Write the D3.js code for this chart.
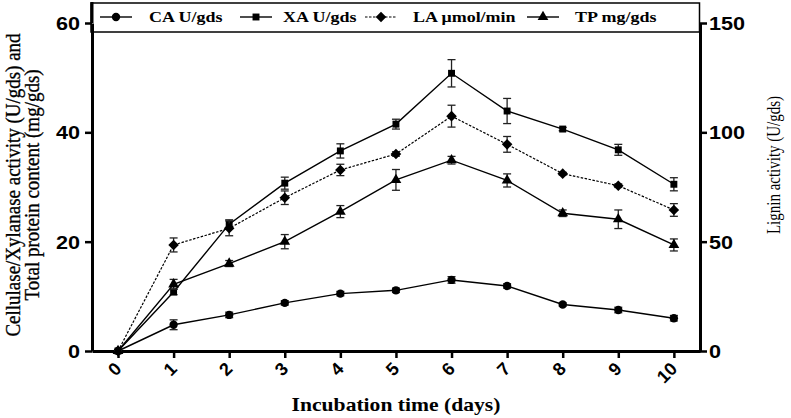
<!DOCTYPE html>
<html lang="en">
<head>
    <meta charset="UTF-8">
    <title>Enzyme activity vs incubation time</title>
    <style>
        body { margin: 0; background: #fff; }
        .tick text { font-family: "Liberation Sans", Arial, sans-serif; font-weight: bold; font-size: 18px; fill: #000; }
        .serif { font-family: "Liberation Serif", "Times New Roman", serif; fill: #000; }
    </style>
</head>
<body>
<div id="chart"></div>
<script src="https://d3js.org/d3.v7.min.js"></script>
<script>
    // values
    var days = [0, 1, 2, 3, 4, 5, 6, 7, 8, 9, 10];
    var caVals = [0, 4.8, 6.6, 8.8, 10.5, 11.1, 13.0, 11.9, 8.5, 7.5, 6.0];
    var caErr  = [0, 0.9, 0.5, 0.4, 0.4, 0.4, 0.6, 0.4, 0.3, 0.5, 0.5];
    var xaVals = [0, 10.8, 23.2, 30.7, 36.6, 41.5, 50.8, 43.9, 40.6, 36.8, 30.5];
    var xaErr  = [0, 0.5, 0.8, 1.1, 1.3, 0.9, 2.5, 2.3, 0.3, 1.0, 1.2];
    var laVals = [0, 48.5, 56.1, 70.1, 82.8, 90.1, 107.4, 94.5, 81.1, 75.6, 64.5];
    var laErr  = [0, 3.2, 3.4, 3.1, 2.6, 1.0, 5.0, 3.6, 0.6, 0.8, 2.9];
    var tpVals = [0, 12.2, 16.0, 20.0, 25.5, 31.3, 34.9, 31.2, 25.2, 24.1, 19.4];
    var tpErr  = [0, 0.9, 0.55, 1.3, 1.1, 1.9, 0.7, 1.2, 0.6, 1.7, 1.1];
    var legendLabels = ["CA U/gds", "XA U/gds", "LA \u03bcmol/min", "TP mg/gds"];
    var leftTicks = [0, 20, 40, 60];
    var rightTicks = [0, 50, 100, 150];

    var width = 791, height = 418;
    var plotLeft = 92, plotRight = 700, plotTop = 23, plotBottom = 351;
    var sx = 1.2; // the original picture is stretched sideways

    var svg = d3.select("#chart").append("svg")
        .attr("width", width)
        .attr("height", height);

    var x = d3.scaleLinear().domain([-0.468, 10.47]).range([plotLeft, plotRight]);
    var yL = d3.scaleLinear().domain([0, 60]).range([plotBottom, plotTop]);
    var yR = d3.scaleLinear().domain([0, 150]).range([plotBottom, plotTop]);

    // legend box at the top
    svg.append("rect")
        .attr("x", plotLeft - 1).attr("y", 3)
        .attr("width", plotRight - plotLeft + 0.5).attr("height", 29)
        .attr("fill", "#fff").attr("stroke", "#000").attr("stroke-width", 1.5);
    svg.append("line")
        .attr("x1", plotLeft).attr("x2", plotLeft).attr("y1", 2).attr("y2", plotTop)
        .attr("stroke", "#000").attr("stroke-width", 3);

    // x axis
    var gx = svg.append("g")
        .attr("transform", "translate(0," + plotBottom + ")")
        .call(d3.axisBottom(x).tickValues(days).tickSize(7).tickSizeOuter(0).tickFormat(d3.format("d")));
    gx.select(".domain").attr("stroke-width", 3);
    gx.selectAll(".tick line").attr("stroke-width", 2.5);
    gx.selectAll(".tick text")
        .attr("y", null).attr("dy", null)
        .attr("text-anchor", "end")
        .attr("transform", "translate(4,19) rotate(-45)");

    // left axis
    var gl = svg.append("g")
        .attr("transform", "translate(" + plotLeft + ",0)")
        .call(d3.axisLeft(yL).tickValues(leftTicks).tickSize(7).tickSizeOuter(0));
    gl.select(".domain").attr("stroke-width", 3);
    gl.selectAll(".tick line").attr("stroke-width", 2.5);
    gl.selectAll(".tick text")
        .attr("x", 0).attr("dy", "0.36em")
        .attr("transform", "translate(-12,0) scale(" + sx + ",1)");

    // right axis
    var gr = svg.append("g")
        .attr("transform", "translate(" + plotRight + ",0)")
        .call(d3.axisRight(yR).tickValues(rightTicks).tickSize(7).tickSizeOuter(0));
    gr.select(".domain").attr("stroke-width", 3);
    gr.selectAll(".tick line").attr("stroke-width", 2.5);
    gr.selectAll(".tick text")
        .attr("x", 0).attr("dy", "0.36em")
        .attr("transform", "translate(9,0) scale(" + sx + ",1)");

    var series = [
        { vals: caVals, err: caErr, y: yL, sym: d3.symbolCircle, size: 55, rot: 0, dash: null },
        { vals: xaVals, err: xaErr, y: yL, sym: d3.symbolSquare, size: 48, rot: 0, dash: null },
        { vals: laVals, err: laErr, y: yR, sym: d3.symbolSquare, size: 56, rot: 45, dash: "2.5,1.5" },
        { vals: tpVals, err: tpErr, y: yL, sym: d3.symbolTriangle, size: 50, rot: 0, dash: null }
    ];

    series.forEach(function (s) {
        var g = svg.append("g");
        var line = d3.line()
            .x(function (d, i) { return x(days[i]); })
            .y(function (d) { return s.y(d); });

        g.append("path")
            .datum(s.vals)
            .attr("d", line)
            .attr("fill", "none")
            .attr("stroke", "#000")
            .attr("stroke-width", s.dash ? 1.2 : 1.4)
            .attr("stroke-dasharray", s.dash);

        // error bars
        var eb = g.selectAll(".eb").data(s.vals).enter().append("g");
        eb.append("line")
            .attr("x1", function (d, i) { return x(days[i]); })
            .attr("x2", function (d, i) { return x(days[i]); })
            .attr("y1", function (d, i) { return s.y(d + s.err[i]); })
            .attr("y2", function (d, i) { return s.y(d - s.err[i]); })
            .attr("stroke", "#222").attr("stroke-width", 1.3);
        [1, -1].forEach(function (sign) {
            eb.append("line")
                .attr("x1", function (d, i) { return x(days[i]) - 4; })
                .attr("x2", function (d, i) { return x(days[i]) + 4; })
                .attr("y1", function (d, i) { return s.y(d + sign * s.err[i]); })
                .attr("y2", function (d, i) { return s.y(d + sign * s.err[i]); })
                .attr("stroke", "#222").attr("stroke-width", 1.3);
        });

        g.selectAll(".pt").data(s.vals).enter().append("path")
            .attr("d", d3.symbol().type(s.sym).size(s.size))
            .attr("transform", function (d, i) {
                return "translate(" + x(days[i]) + "," + s.y(d) + ") rotate(" + s.rot + ")";
            })
            .attr("fill", "#000");
    });

    // legend
    var legX = [100, 240, 365, 527];
    var legTextX = [149, 283, 413, 575];
    legendLabels.forEach(function (lab, i) {
        var s = series[i];
        svg.append("line")
            .attr("x1", legX[i]).attr("x2", legX[i] + 32)
            .attr("y1", 17).attr("y2", 17)
            .attr("stroke", "#000").attr("stroke-width", s.dash ? 1.2 : 1.4)
            .attr("stroke-dasharray", s.dash);
        svg.append("path")
            .attr("d", d3.symbol().type(s.sym).size(s.size))
            .attr("transform", "translate(" + (legX[i] + 16) + ",17) rotate(" + s.rot + ")")
            .attr("fill", "#000");
        svg.append("text")
            .attr("class", "serif")
            .attr("transform", "translate(" + legTextX[i] + ",22) scale(" + sx + ",1)")
            .attr("font-size", 15)
            .attr("font-weight", "bold")
            .text(lab);
    });

    // axis titles
    svg.append("text")
        .attr("class", "serif")
        .attr("transform", "translate(396,411) scale(" + sx + ",1)")
        .attr("text-anchor", "middle")
        .attr("font-size", 18)
        .attr("font-weight", "bold")
        .text("Incubation time (days)");

    var yTitle = ["Cellulase/Xylanase activity (U/gds) and", "Total protein content (mg/gds)"];
    yTitle.forEach(function (t, i) {
        svg.append("text")
            .attr("class", "serif")
            .attr("transform", "translate(" + (19.5 + i * 19.5) + ",185) scale(1.12,1) rotate(-90)")
            .attr("text-anchor", "middle")
            .attr("font-size", 19)
            .attr("stroke", "#000")
            .attr("stroke-width", 0.3)
            .text(t);
    });

    svg.append("text")
        .attr("class", "serif")
        .attr("transform", "translate(780,165) scale(" + sx + ",1) rotate(-90)")
        .attr("text-anchor", "middle")
        .attr("font-size", 15)
        .text("Lignin activity (U/gds)");
</script>
</body>
</html>
